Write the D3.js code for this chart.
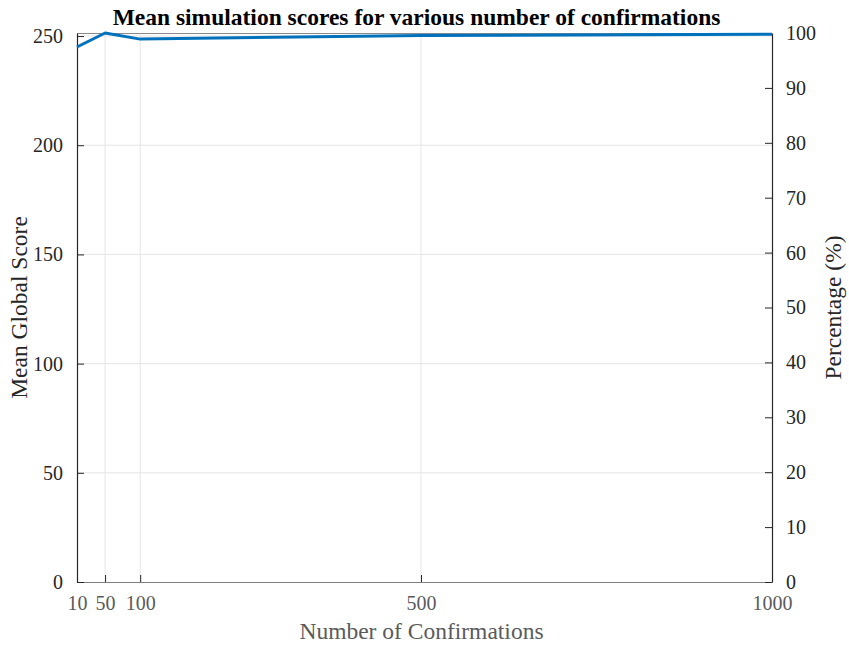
<!DOCTYPE html>
<html>
<head>
<meta charset="utf-8">
<script src="https://cdn.jsdelivr.net/npm/d3@7/dist/d3.min.js"></script>
<style>
  body { margin: 0; background: #fff; }
  svg { display: block; font-family: "Liberation Serif", "Times New Roman", serif; }
</style>
</head>
<body>
<svg id="chart" width="849" height="645"></svg>
<script>
// Mean global score per number of confirmations
const confirmations = [10, 50, 100, 500, 1000];
const meanScores = [245.0, 251.4, 248.6, 250.3, 250.8];

const xTicks = [10, 50, 100, 500, 1000];
const leftTicks = [0, 50, 100, 150, 200, 250];
const rightTicks = [0, 10, 20, 30, 40, 50, 60, 70, 80, 90, 100];

const titleText = "Mean simulation scores for various number of confirmations";
const xLabel = "Number of Confirmations";
const yLeftLabel = "Mean Global Score";
const yRightLabel = "Percentage (%)";

const margin = { left: 77, right: 77, top: 33, bottom: 63 };
const W = 849, H = 645;
const x0 = margin.left, x1 = W - margin.right, y0 = H - margin.bottom, y1 = margin.top;

const svg = d3.select("#chart");

const x = d3.scaleLinear().domain([10, 1000]).range([x0, x1]);
const yL = d3.scaleLinear().domain([0, d3.max(meanScores)]).range([y0, y1]);
const yR = d3.scaleLinear().domain([0, 100]).range([y0, y1]);

const gridColor = "#e5e5e5";
const grid = svg.append("g");
grid.selectAll("line.gx").data(xTicks.slice(1, -1)).join("line")
  .attr("x1", d => x(d)).attr("x2", d => x(d)).attr("y1", y0).attr("y2", y1)
  .attr("stroke", gridColor).attr("stroke-width", 1);
grid.selectAll("line.gy").data(leftTicks.slice(1)).join("line")
  .attr("x1", x0).attr("x2", x1).attr("y1", d => yL(d)).attr("y2", d => yL(d))
  .attr("stroke", gridColor).attr("stroke-width", 1);

// top box edge
svg.append("line").attr("x1", x0).attr("x2", x1).attr("y1", y1 + 0.5).attr("y2", y1 + 0.5)
  .attr("stroke", "#8a8a8a").attr("stroke-width", 1);

const fs = 20;
const labelFs = 23.5;
const serif = "Liberation Serif, Times New Roman, serif";

// bottom axis
const xAxis = d3.axisBottom(x).tickValues(xTicks).tickSizeInner(-7).tickSizeOuter(0).tickPadding(14)
  .tickFormat(d3.format("d"));
const gx = svg.append("g").attr("transform", `translate(0,${y0})`).call(xAxis);
gx.select(".domain").attr("stroke", "#7f7f7f").attr("stroke-width", 1.2);
gx.selectAll(".tick line").attr("stroke", "#262626");
gx.selectAll(".tick text").attr("fill", "#5a5a5a").attr("font-size", fs).attr("font-family", serif);

// left axis
const yAxisL = d3.axisLeft(yL).tickValues(leftTicks).tickSizeInner(-7).tickSizeOuter(0).tickPadding(14);
const gl = svg.append("g").attr("transform", `translate(${x0},0)`).call(yAxisL);
gl.select(".domain").attr("stroke", "#262626").attr("stroke-width", 1.2);
gl.selectAll(".tick line").attr("stroke", "#262626");
gl.selectAll(".tick text").attr("fill", "#262626").attr("font-size", fs).attr("font-family", serif);

// right axis
const yAxisR = d3.axisRight(yR).tickValues(rightTicks).tickSizeInner(-7).tickSizeOuter(0).tickPadding(14);
const gr = svg.append("g").attr("transform", `translate(${x1},0)`).call(yAxisR);
gr.select(".domain").attr("stroke", "#262626").attr("stroke-width", 1.2);
gr.selectAll(".tick line").attr("stroke", "#262626");
gr.selectAll(".tick text").attr("fill", "#262626").attr("font-size", fs).attr("font-family", serif);

// score line
const line = d3.line().x((d, i) => x(confirmations[i])).y(d => yL(d));
svg.append("path").datum(meanScores).attr("d", line)
  .attr("fill", "none").attr("stroke", "#0072BD").attr("stroke-width", 3).attr("stroke-linejoin", "round");

// titles
svg.append("text").attr("x", (x0 + x1) / 2 - 8).attr("y", 25).attr("text-anchor", "middle")
  .attr("font-size", labelFs).attr("font-weight", "bold").attr("fill", "#000").text(titleText);
svg.append("text").attr("x", (x0 + x1) / 2 - 3).attr("y", 639).attr("text-anchor", "middle")
  .attr("font-size", labelFs).attr("fill", "#5a5a5a").text(xLabel);
svg.append("text").attr("transform", `translate(27,${(y0 + y1) / 2}) rotate(-90)`).attr("text-anchor", "middle")
  .attr("font-size", labelFs).attr("fill", "#262626").text(yLeftLabel);
svg.append("text").attr("transform", `translate(841,${(y0 + y1) / 2}) rotate(-90)`).attr("text-anchor", "middle")
  .attr("font-size", labelFs).attr("fill", "#262626").text(yRightLabel);
</script>
</body>
</html>
